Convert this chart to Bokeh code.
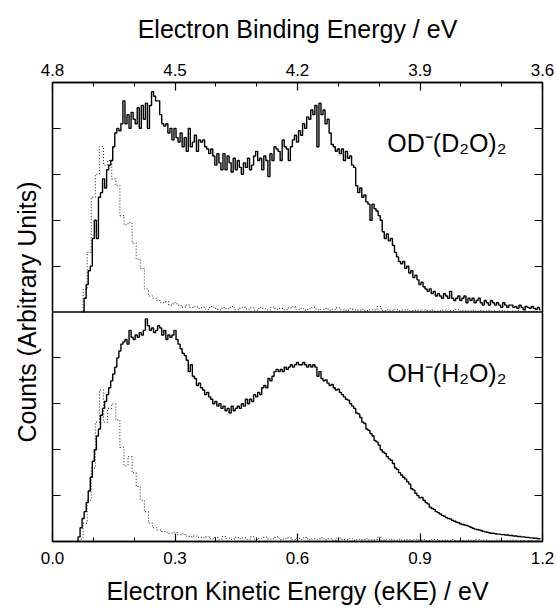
import numpy as np
from bokeh.plotting import figure
from bokeh.models import Range1d, LinearAxis, FixedTicker, PrintfTickFormatter, Span, Label
from bokeh.embed import file_html
from bokeh.resources import INLINE

# ---------------- data ----------------
SOLID_BIN = 0.005
DOT_BIN = 0.01

# OD-(D2O)2 photoelectron spectrum (solid), first bin centre 0.075 eV
od_solid_start = 0.075
od_solid = [
    0, 0.3, 0.6, 0.9, 1.0, 1.6, 2.0, 1.6, 2.5, 2.6,
    2.9, 2.7, 3.1, 3.2, 3.3, 3.6, 3.9, 4.0, 3.95, 4.1,
    4.6, 4.1, 4.3, 4.0, 4.35, 4.2, 4.1, 4.45, 4.0, 4.5,
    4.2, 4.55, 4.0, 4.5, 4.8, 4.7, 4.6, 4.6, 4.3, 4.1,
    4.05, 4.1, 3.9, 4.0, 3.75, 4.0, 3.8, 3.7, 3.9, 3.6,
    3.8, 3.5, 4.0, 3.6, 3.7, 3.85, 3.5, 3.75, 3.7, 3.75,
    3.6, 3.55, 3.45, 3.55, 3.4, 3.2, 3.45, 3.25, 3.1, 3.45,
    3.1, 3.4, 3.25, 3.05, 3.35, 3.1, 3.3, 3.15, 3.0, 3.25,
    3.15, 3.35, 3.1, 3.2, 3.4, 3.5, 3.3, 3.35, 3.1, 3.4,
    3.3, 2.95, 3.45, 3.3, 3.6, 3.55, 3.5, 3.3, 3.75, 3.6,
    3.55, 3.3, 3.6, 3.75, 3.85, 3.7, 3.95, 3.85, 4.1, 4.0,
    4.25, 4.2, 4.4, 4.3, 4.5, 3.6, 4.55, 4.3, 4.4, 4.1,
    4.2, 3.9, 3.65, 3.6, 3.5, 3.55, 3.45, 3.55, 3.3, 3.5,
    3.35, 3.4, 3.2, 3.15, 2.75, 2.6, 2.7, 2.5, 2.55, 2.4,
    2.35, 2.0, 2.35, 2.25, 2.2, 2.1, 2.0, 1.75, 1.6, 1.7,
    1.55, 1.6, 1.45, 1.3, 1.2, 1.1, 1.05, 1.1, 0.95, 1.0,
    0.85, 0.9, 0.75, 0.8, 0.7, 0.6, 0.65, 0.55, 0.5, 0.45,
    0.5, 0.4, 0.45, 0.35, 0.4, 0.35, 0.3, 0.4, 0.35, 0.3,
    0.45, 0.3, 0.25, 0.3, 0.35, 0.25, 0.3, 0.35, 0.2, 0.3,
    0.25, 0.3, 0.2, 0.25, 0.3, 0.2, 0.15, 0.25, 0.2, 0.15,
    0.25, 0.2, 0.15, 0.2, 0.15, 0.1, 0.2, 0.15, 0.1, 0.15,
    0.15, 0.1, 0.12, 0.08, 0.15, 0.1, 0.05, 0.12, 0.1, 0.08,
    0.12, 0.08, 0.06, 0.1, 0.05,
]

# OD-(D2O)2 dotted trace, first bin centre 0.07 eV
od_dot_start = 0.07
od_dot = [
    0, 0.5, 1.3, 2.5, 3.0, 3.6, 3.2, 3.3, 2.9, 2.75,
    2.1, 1.9, 1.95, 1.5, 1.15, 0.95, 0.5, 0.35, 0.3, 0.25,
    0.2, 0.22, 0.15, 0.2, 0.15, 0.1, 0.15, 0.1, 0.12, 0.08,
    0.1, 0.06, 0.12, 0.08, 0.05, 0.1, 0.07, 0.12, 0.05, 0.08,
    0.1, 0.06, 0.09, 0.04, 0.1, 0.07, 0.05, 0.11, 0.06, 0.08,
    0.05, 0.09, 0.12, 0.06, 0.08, 0.04, 0.07, 0.1, 0.05, 0.06,
    0.08, 0.04, 0.06, 0.09, 0.05, 0.03, 0.07, 0.05, 0.04, 0.06,
    0.03, 0.05, 0.04, 0.12, 0.03, 0.05, 0.04, 0.06, 0.03, 0.04,
    0.05, 0.03, 0.04, 0.02, 0.05, 0.03, 0.04, 0.02, 0.03, 0.04,
    0.02, 0.03, 0.05, 0.02, 0.03, 0.02, 0.04, 0.02, 0.03, 0.02,
    0.03, 0.02, 0.01, 0.03, 0.02, 0.01, 0.02, 0.03, 0.01, 0.02,
    0.01, 0.02, 0.01,
]

# OH-(H2O)2 photoelectron spectrum (solid), first bin centre 0.06 eV
oh_solid_start = 0.06
oh_solid = [
    0, 0.1, 0.3, 0.5, 0.65, 0.85, 1.1, 1.4, 1.75, 2.0,
    2.3, 2.45, 2.75, 2.9, 3.05, 3.2, 3.35, 3.5, 3.65, 3.8,
    4.0, 4.15, 4.3, 4.35, 4.4, 4.3, 4.6, 4.45, 4.4, 4.5,
    4.45, 4.55, 4.5, 4.6, 4.85, 4.7, 4.6, 4.65, 4.55, 4.6,
    4.7, 4.65, 4.5, 4.6, 4.4, 4.5, 4.45, 4.5, 4.6, 4.4,
    4.3, 4.2, 4.1, 4.05, 3.95, 3.7, 3.85, 3.6, 3.55, 3.4,
    3.45, 3.35, 3.3, 3.2, 3.25, 3.15, 3.1, 3.0, 3.05, 2.95,
    3.0, 2.9, 2.95, 2.85, 2.9, 2.8, 2.95, 2.85, 2.9, 2.95,
    2.9, 3.0, 2.95, 3.1, 3.0, 3.1, 3.05, 3.2, 3.15, 3.25,
    3.2, 3.35, 3.4, 3.35, 3.55, 3.5, 3.6, 3.7, 3.75, 3.7,
    3.75, 3.7, 3.8, 3.75, 3.8, 3.85, 3.8, 3.85, 3.9, 3.85,
    3.85, 3.9, 3.85, 3.8, 3.85, 3.8, 3.85, 3.8, 3.6, 3.7,
    3.55, 3.5, 3.52, 3.45, 3.4, 3.42, 3.35, 3.3, 3.32, 3.25,
    3.2, 3.15, 3.1, 3.08, 3.0, 2.95, 2.9, 2.8, 2.78, 2.7,
    2.6, 2.57, 2.45, 2.42, 2.35, 2.3, 2.2, 2.17, 2.1, 2.0,
    1.95, 1.92, 1.85, 1.8, 1.77, 1.7, 1.6, 1.57, 1.5, 1.45,
    1.4, 1.36, 1.3, 1.25, 1.15, 1.12, 1.05, 1.0, 0.95, 0.96,
    0.9, 0.85, 0.82, 0.75, 0.72, 0.7, 0.65, 0.63, 0.6, 0.57,
    0.55, 0.52, 0.5, 0.49, 0.46, 0.44, 0.42, 0.41, 0.38, 0.37,
    0.36, 0.35, 0.33, 0.31, 0.29, 0.27, 0.26, 0.25, 0.24, 0.22,
    0.21, 0.2, 0.19, 0.18, 0.18, 0.17, 0.16, 0.16, 0.15, 0.15,
    0.14, 0.14, 0.13, 0.13, 0.12, 0.12, 0.11, 0.11, 0.1, 0.1,
    0.09, 0.09, 0.08, 0.08, 0.07, 0.07, 0.06, 0.06,
]

# OH-(H2O)2 dotted trace, first bin centre 0.07 eV
oh_dot_start = 0.07
oh_dot = [
    0.05, 0.4, 0.9, 1.6, 2.6, 3.3, 2.6, 2.9, 3.0, 2.65,
    2.05, 1.65, 1.85, 1.5, 1.2, 0.9, 0.65, 0.4, 0.3, 0.25,
    0.22, 0.2, 0.18, 0.2, 0.15, 0.17, 0.12, 0.1, 0.12, 0.09,
    0.08, 0.1, 0.06, 0.09, 0.05, 0.11, 0.07, 0.05, 0.09, 0.06,
    0.08, 0.05, 0.1, 0.04, 0.07, 0.09, 0.05, 0.06, 0.1, 0.04,
    0.06, 0.08, 0.04, 0.07, 0.05, 0.09, 0.04, 0.06, 0.05, 0.08,
    0.04, 0.06, 0.03, 0.07, 0.05, 0.04, 0.06, 0.03, 0.05, 0.04,
    0.06, 0.03, 0.04, 0.09, 0.03, 0.05, 0.04, 0.03, 0.05, 0.03,
    0.04, 0.02, 0.05, 0.03, 0.04, 0.02, 0.03, 0.04, 0.02, 0.03,
    0.02, 0.04, 0.02, 0.03, 0.02, 0.03, 0.02, 0.04, 0.02, 0.03,
    0.02, 0.01, 0.03, 0.02, 0.01, 0.02, 0.03, 0.01, 0.02, 0.01,
    0.02, 0.01, 0.02,
]

KE_TICKS = [0.0, 0.3, 0.6, 0.9, 1.2]
KE_MINOR = [0.1, 0.2, 0.4, 0.5, 0.7, 0.8, 1.0, 1.1]
BE_TICKS = [4.8, 4.5, 4.2, 3.9, 3.6]
BE_MINOR = [4.7, 4.6, 4.4, 4.3, 4.1, 4.0, 3.8, 3.7]
Y_TICKS = [1, 2, 3, 4, 6, 7, 8, 9]

LABEL_TOP = "OD\u207b(D\u2082O)\u2082"
LABEL_BOT = "OH\u207b(H\u2082O)\u2082"


def centres(start, step, n):
    return np.round(start + step * np.arange(n), 4)


FONT = "Liberation Sans"

p = figure(width=557, height=614, x_range=Range1d(0, 1.2), y_range=Range1d(0, 10),
           output_backend="svg", toolbar_location=None,
           x_axis_location=None, y_axis_location=None,
           min_border_left=52, min_border_right=15, min_border_top=82, min_border_bottom=73)
p.extra_y_ranges = {"top": Range1d(-5, 5)}
p.extra_x_ranges = {"be": Range1d(4.8, 3.6)}
p.xgrid.visible = False
p.ygrid.visible = False
p.outline_line_color = "black"
p.outline_line_width = 1.3
p.background_fill_color = "white"
p.border_fill_color = "white"


def style(ax, labels=True):
    ax.axis_line_color = "black"
    ax.axis_line_width = 1.3
    ax.major_tick_in = 8
    ax.major_tick_out = 0
    ax.minor_tick_in = 4
    ax.minor_tick_out = 0
    ax.major_tick_line_width = 1.2
    ax.minor_tick_line_width = 1.0
    ax.major_label_text_font = FONT
    ax.major_label_text_font_size = "17px" if labels else "0px"
    ax.major_label_text_color = "black"
    ax.axis_label_text_font = FONT
    ax.axis_label_text_font_size = "25px"
    ax.axis_label_text_font_style = "normal"
    ax.axis_label_text_color = "black"


xb = LinearAxis(axis_label="Electron Kinetic Energy (eKE) / eV",
                ticker=FixedTicker(ticks=KE_TICKS, minor_ticks=KE_MINOR),
                formatter=PrintfTickFormatter(format="%.1f"))
style(xb)
xb.major_label_standoff = 10
xb.axis_label_standoff = 10
p.add_layout(xb, "below")

xa = LinearAxis(x_range_name="be", axis_label="Electron Binding Energy / eV",
                ticker=FixedTicker(ticks=BE_TICKS, minor_ticks=BE_MINOR),
                formatter=PrintfTickFormatter(format="%.1f"))
style(xa)
xa.major_label_standoff = 7
xa.axis_label_standoff = 18
p.add_layout(xa, "above")

yl = LinearAxis(axis_label="Counts (Arbitrary Units)", ticker=FixedTicker(ticks=Y_TICKS, minor_ticks=[]))
style(yl, labels=False)
yl.major_label_standoff = 0
yl.axis_label_standoff = 12
p.add_layout(yl, "left")

yr = LinearAxis(ticker=FixedTicker(ticks=Y_TICKS, minor_ticks=[]))
style(yr, labels=False)
yr.major_label_standoff = 0
p.add_layout(yr, "right")

p.add_layout(Span(location=5, dimension="width", line_color="black", line_width=1.3))

# traces
p.step(centres(od_dot_start, DOT_BIN, len(od_dot)), od_dot, mode="center", y_range_name="top",
       line_color="#333333", line_width=1.1, line_dash="1 2")
p.step(centres(od_solid_start, SOLID_BIN, len(od_solid)), od_solid, mode="center", y_range_name="top",
       line_color="black", line_width=1.4)
p.step(centres(oh_dot_start, DOT_BIN, len(oh_dot)), oh_dot, mode="center",
       line_color="#333333", line_width=1.1, line_dash="1 2")
p.step(centres(oh_solid_start, SOLID_BIN, len(oh_solid)), oh_solid, mode="center",
       line_color="black", line_width=1.4)

p.add_layout(Label(x=0.82, y=3.68, y_range_name="top", text=LABEL_TOP, text_font=FONT,
                   text_font_size="25px", text_color="black", text_baseline="alphabetic"))
p.add_layout(Label(x=0.82, y=3.67, text=LABEL_BOT, text_font=FONT,
                   text_font_size="25px", text_color="black", text_baseline="alphabetic"))

open("out.html", "w").write(file_html(p, INLINE))
